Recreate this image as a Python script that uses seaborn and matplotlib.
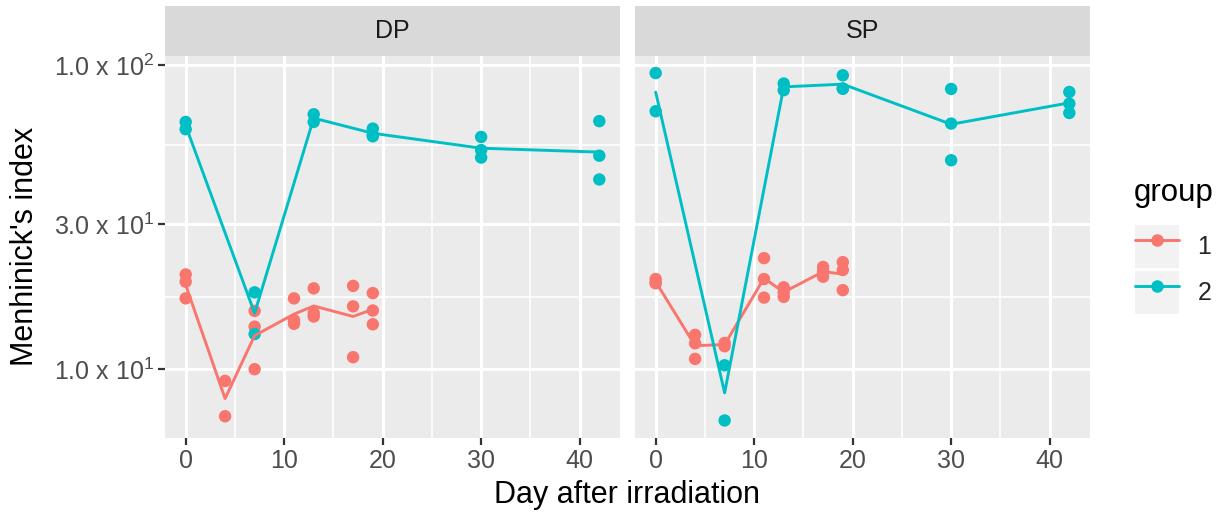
import numpy as np
import pandas as pd
import seaborn as sns
import matplotlib.pyplot as plt
from matplotlib.lines import Line2D
from matplotlib.patches import Rectangle
from matplotlib.legend_handler import HandlerTuple

# Menhinick's index per sample
dp_g1_day = [0, 0, 0, 4, 4, 7, 7, 7, 11, 11, 11, 13, 13, 13, 17, 17, 17, 19, 19, 19]
dp_g1_val = [20.5, 19.4, 17.1, 9.15, 7.0, 15.55, 13.8, 10.0, 17.1, 14.5, 14.1,
             18.45, 15.3, 14.9, 18.8, 16.1, 10.95, 17.8, 15.6, 14.05]
dp_g2_day = [0, 0, 7, 7, 13, 13, 19, 19, 19, 30, 30, 30, 42, 42, 42]
dp_g2_val = [65.1, 61.6, 17.9, 13.05, 69.0, 65.1, 61.9, 59.0, 58.4,
             58.1, 52.6, 49.7, 65.5, 50.4, 42.1]

sp_g1_day = [0, 0, 0, 4, 4, 4, 7, 7, 11, 11, 11, 13, 13, 13, 17, 17, 17, 19, 19, 19]
sp_g1_val = [19.8, 19.2, 19.2, 12.97, 12.17, 10.81, 12.2, 11.9, 23.2, 19.8, 17.2,
             18.6, 17.9, 17.3, 21.7, 21.0, 20.15, 22.5, 21.2, 18.2]
sp_g2_day = [0, 0, 7, 7, 13, 13, 19, 19, 19, 30, 30, 30, 42, 42, 42]
sp_g2_val = [94.3, 70.6, 10.3, 6.78, 87.1, 82.8, 92.7, 83.8, 83.8,
             83.6, 64.3, 48.7, 81.7, 74.8, 69.7]

panels = ['DP', 'SP']
groups = ['1', '2']
y_ticks = [10, 30, 100]
y_ticklabels = ['1.0 x 10$^{1}$', '3.0 x 10$^{1}$', '1.0 x 10$^{2}$']
x_ticks = [0, 10, 20, 30, 40]

frames = []
for panel, grp, days, vals in [('DP', '1', dp_g1_day, dp_g1_val), ('DP', '2', dp_g2_day, dp_g2_val),
                               ('SP', '1', sp_g1_day, sp_g1_val), ('SP', '2', sp_g2_day, sp_g2_val)]:
    frames.append(pd.DataFrame({'panel': panel, 'group': grp, 'day': days, 'value': vals}))
df = pd.concat(frames, ignore_index=True)

palette = {'1': '#F8766D', '2': '#00BFC4'}


def gmean(v):
    # ggplot computes the summary on the log10 scale
    return 10 ** np.mean(np.log10(v))


sns.set_theme(style="darkgrid", rc={
    'axes.facecolor': '#EBEBEB',
    'grid.color': 'white',
    'axes.edgecolor': 'none',
    'xtick.bottom': True, 'ytick.left': True,
    'xtick.color': '#333333', 'ytick.color': '#333333',
})
plt.rcParams['font.family'] = ['Liberation Sans', 'DejaVu Sans']
plt.rcParams['mathtext.fontset'] = 'custom'
plt.rcParams['mathtext.rm'] = 'Liberation Sans'
plt.rcParams['mathtext.default'] = 'regular'

fig = plt.figure(figsize=(12.28, 5.19), dpi=100)
W, H = 1228, 519
ax1 = fig.add_axes([165 / W, 1 - 437.7 / H, 455 / W, 381.7 / H])
ax2 = fig.add_axes([635 / W, 1 - 437.7 / H, 455 / W, 381.7 / H], sharey=ax1)

for ax, panel in zip([ax1, ax2], panels):
    sub = df[df['panel'] == panel]
    sns.scatterplot(data=sub, x='day', y='value', hue='group', hue_order=groups,
                    palette=palette, s=80, linewidth=0, legend=False, ax=ax, zorder=3)
    sns.lineplot(data=sub, x='day', y='value', hue='group', hue_order=groups,
                 palette=palette, estimator=gmean, errorbar=None, linewidth=2.1,
                 legend=False, ax=ax, zorder=4)

ax1.set_yscale('log')
for ax, panel in zip([ax1, ax2], panels):
    ax.set_xlim(-2.1, 44.1)
    ax.set_ylim(5.95, 107.3)
    ax.set_xticks(x_ticks)
    ax.set_xticks([5, 15, 25, 35], minor=True)
    ax.set_yticks(y_ticks)
    ax.set_yticks([np.sqrt(10 * 30), np.sqrt(30 * 100)], minor=True)
    ax.grid(True, which='major', color='white', linewidth=2.2)
    ax.grid(True, which='minor', color='white', linewidth=1.1)
    ax.tick_params(which='major', length=5, width=1.6, color='#333333',
                   labelsize=18, labelcolor='#4D4D4D', pad=3)
    ax.tick_params(which='minor', length=0)
    ax.set_xlabel('')
    ax.set_ylabel('')
    for s in ax.spines.values():
        s.set_visible(False)
    # facet strip
    ax.add_patch(Rectangle((0, 1), 1, 50 / 381.7, transform=ax.transAxes,
                           facecolor='#D9D9D9', edgecolor='none', clip_on=False))
    ax.text(0.5, 1 + 25 / 381.7, panel, transform=ax.transAxes, ha='center',
            va='center', fontsize=18, color='#1A1A1A')

ax1.set_yticklabels(y_ticklabels)
ax2.tick_params(axis='y', which='both', left=False, labelleft=False)

fig.text(627 / W, 1 - 495 / H, 'Day after irradiation', ha='center', va='center',
         fontsize=22, color='black')
fig.text(25 / W, 1 - 246 / H, "Menhinick's index", ha='center', va='center',
         rotation=90, fontsize=22, color='black')

# legend: title as text, keys with grey background
fig.text(1134 / W, 1 - 201 / H, 'group', ha='left', va='baseline',
         fontsize=22.5, color='black')
handles = []
for g in groups:
    box = Rectangle((0, 0), 1, 1, facecolor='#F2F2F2', edgecolor='none')
    ln = Line2D([], [], color=palette[g], linewidth=2.1, marker='o', markersize=9,
                markeredgewidth=0)
    handles.append((box, ln))
fig.legend(handles, groups, loc='upper left',
           bbox_to_anchor=(1135 / W, 1 - 225 / H), frameon=False,
           handler_map={tuple: HandlerTuple(ndivide=1)},
           fontsize=18, handlelength=1.75, handleheight=2.27, labelspacing=0.12,
           handletextpad=0.75, borderaxespad=0, borderpad=0)

fig.savefig('out.png', dpi=100)
